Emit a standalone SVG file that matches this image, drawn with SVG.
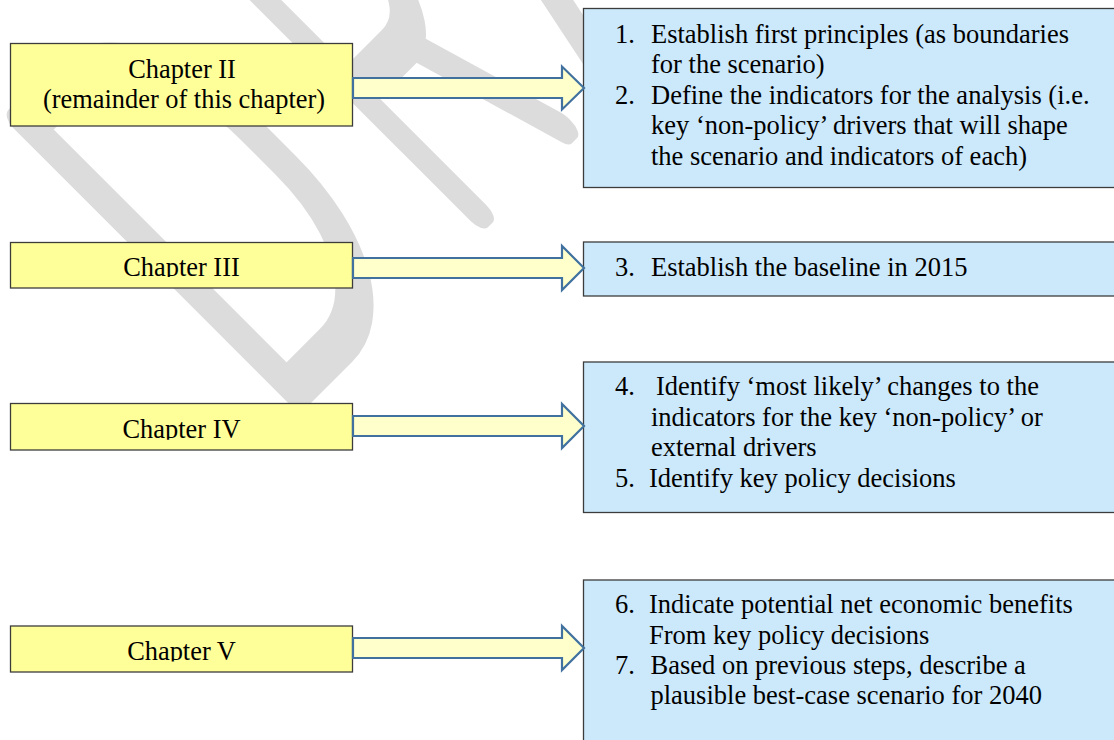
<svg xmlns="http://www.w3.org/2000/svg" width="1114" height="740" viewBox="0 0 1114 740">
<defs>
<style>
.y{fill:#ffff99;stroke:#3c3c3c;stroke-width:1.3}
.b{fill:#cce9fb;stroke:#3c3c3c;stroke-width:1.3}
.t{font-family:"Liberation Serif","Times New Roman",serif;font-size:26.5px;fill:#000}
.c{text-anchor:middle;font-size:26.4px}
.arr{fill:#ffffcc;stroke:#41729f;stroke-width:2.2}
.wm{font-family:Roboto,"Liberation Sans",sans-serif;font-weight:100;font-size:548px;fill:#dcdcdc;stroke:#dcdcdc;stroke-width:26;stroke-linejoin:round;stroke-linecap:round}
</style>
<clipPath id="c3"><rect x="0" y="200" width="360" height="77"/></clipPath>
<clipPath id="c4"><rect x="0" y="380" width="360" height="59.8"/></clipPath>
<clipPath id="c5"><rect x="0" y="600" width="360" height="61.6"/></clipPath>
</defs>
<rect width="1114" height="740" fill="#ffffff"/>
<g id="watermark" transform="translate(293.5,416.5) rotate(-45)">
<text class="wm" transform="scale(0.6,1)" x="-28" y="-13" vector-effect="non-scaling-stroke">D</text>
<text class="wm" transform="scale(0.47,1)" x="525" y="-13" vector-effect="non-scaling-stroke">R</text>
<text class="wm" transform="scale(0.55,1)" x="822" y="-13" vector-effect="non-scaling-stroke">A</text>
</g>
<g id="chapter2">
<rect class="y" x="10.5" y="43.5" width="342" height="82.5"/>
<text class="t c" x="182" y="77.7">Chapter II</text>
<text class="t c" x="184" y="108.3">(remainder of this chapter)</text>
</g>
<g id="chapter3">
<rect class="y" x="10.5" y="242.5" width="342" height="45.5"/>
<text class="t c" x="181.5" y="275.8" clip-path="url(#c3)">Chapter III</text>
</g>
<g id="chapter4">
<rect class="y" x="10.5" y="403.5" width="342" height="46.5"/>
<text class="t c" x="181.5" y="438.4" clip-path="url(#c4)">Chapter IV</text>
</g>
<g id="chapter5">
<rect class="y" x="10.5" y="626" width="342" height="46"/>
<text class="t c" x="181.5" y="660.2" clip-path="url(#c5)">Chapter V</text>
</g>
<g id="steps12">
<rect class="b" x="583.5" y="8.5" width="540" height="179"/>
<text class="t" x="615" y="42.7">1.</text>
<text class="t" x="651" y="42.7">Establish first principles (as boundaries</text>
<text class="t" x="651" y="73.2">for the scenario)</text>
<text class="t" x="615" y="103.6">2.</text>
<text class="t" x="651" y="103.6">Define the indicators for the analysis (i.e.</text>
<text class="t" x="651" y="134.2">key &#8216;non-policy&#8217; drivers that will shape</text>
<text class="t" x="651" y="165">the scenario and indicators of each)</text>
</g>
<g id="step3">
<rect class="b" x="583.5" y="242" width="540" height="54"/>
<text class="t" x="615" y="276">3.</text>
<text class="t" x="651" y="276">Establish the baseline in 2015</text>
</g>
<g id="steps45">
<rect class="b" x="583.5" y="362" width="540" height="150.5"/>
<text class="t" x="615" y="395">4.</text>
<text class="t" x="656" y="395">Identify &#8216;most likely&#8217; changes to the</text>
<text class="t" x="651" y="425.5">indicators for the key &#8216;non-policy&#8217; or</text>
<text class="t" x="651" y="456">external drivers</text>
<text class="t" x="615" y="486.6">5.</text>
<text class="t" x="649" y="486.6">Identify key policy decisions</text>
</g>
<g id="steps67">
<rect class="b" x="583.5" y="580" width="540" height="180"/>
<text class="t" x="615" y="613.3">6.</text>
<text class="t" x="649" y="613.3">Indicate potential net economic benefits</text>
<text class="t" x="649" y="643.5">From key policy decisions</text>
<text class="t" x="615" y="673.6">7.</text>
<text class="t" x="650.5" y="673.6">Based on previous steps, describe a</text>
<text class="t" x="650.5" y="704">plausible best-case scenario for 2040</text>
</g>
<g id="connectors">
<polygon class="arr" points="353,78 562,78 562,66.5 584,88 562,109.5 562,98 353,98"/>
<polygon class="arr" points="353,258 562,258 562,246 584,268 562,290 562,278 353,278"/>
<polygon class="arr" points="353,416 562,416 562,404 584,426 562,448 562,436 353,436"/>
<polygon class="arr" points="353,638 562,638 562,626 584,648 562,670 562,658 353,658"/>
</g>
</svg>
